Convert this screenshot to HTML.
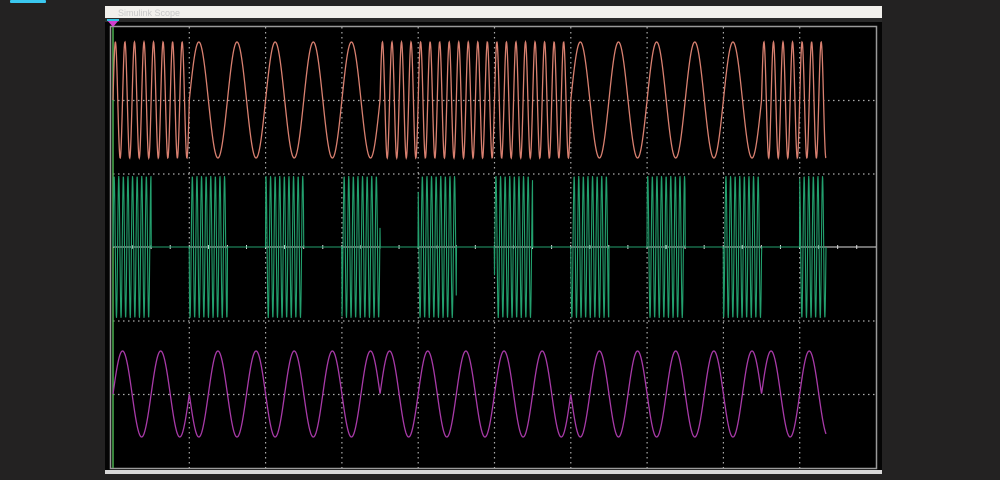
<!DOCTYPE html>
<html><head><meta charset="utf-8"><style>
html,body{margin:0;padding:0;background:#232222;width:1000px;height:480px;overflow:hidden}
svg{display:block}
</style></head><body>
<svg id="s" width="1000" height="480" xmlns="http://www.w3.org/2000/svg">
<rect x="0" y="0" width="1000" height="480" fill="#232222"/>
<rect x="10" y="0" width="36" height="3" rx="1" fill="#3ac8f0"/>
<rect x="105" y="6" width="777" height="468" fill="#050505"/>
<rect x="105" y="6" width="777" height="12" fill="#f2f0ec"/>
<text x="118" y="16" font-family="Liberation Sans, sans-serif" font-size="9" fill="#c8c8c8">Simulink Scope</text>
<rect x="105" y="18" width="777" height="4" fill="#2a2a2a"/>
<rect x="105" y="470" width="777" height="4" fill="#d8d8d8"/>
<rect x="110.5" y="26.5" width="766" height="442" fill="#000" stroke="#9a9a9a" stroke-width="1.5"/>
<g id="grid" stroke="#aaa" stroke-width="1.2" stroke-dasharray="1.5,3.5" fill="none"></g>
<line x1="113" y1="27" x2="113" y2="468" stroke="#4caf50" stroke-width="1.5"/>
<line x1="113" y1="247" x2="876" y2="247" stroke="#dddddd" stroke-width="1"/>
<g id="sig" fill="none"></g>
<polygon points="107,20 119,20 113,27" fill="#d040d0"/>
<rect x="107" y="19" width="12" height="2" fill="#30c0e0"/>
</svg>
<script>
const NS="http://www.w3.org/2000/svg";
const g=document.getElementById('grid');
function ln(p,x1,y1,x2,y2,c,w){const l=document.createElementNS(NS,'line');l.setAttribute('x1',x1);l.setAttribute('y1',y1);l.setAttribute('x2',x2);l.setAttribute('y2',y2);if(c)l.setAttribute('stroke',c);if(w)l.setAttribute('stroke-width',w);p.appendChild(l);}
for(let i=1;i<10;i++){const x=113+i*76.3;ln(g,x,27,x,468);}
for(let j=1;j<6;j++){const y=27+j*73.5;if(j!==3)ln(g,113,y,876,y);}
const s=document.getElementById('sig');
for(let k=1;k<40;k++){const x=113+k*19.07;ln(s,x,245,x,249,'#ddd',1);}
const X0=113,B=38.15,END=826;
function fast(b){return b<=1||(b>=7&&b<=11)||b>=17;}
let r='',p='',gr='';
for(let x=X0;x<=END;x+=0.25){
 const b=Math.floor((x-X0)/B);const t=(x-X0)/B;
 const f=fast(b);
 const yr=100-58*Math.sin(2*Math.PI*t*(f?4:1));
 r+=(r?'L':'M')+x.toFixed(2)+','+yr.toFixed(2);
 const yp=394-43*(f?1:-1)*Math.sin(2*Math.PI*t);
 p+=(p?'L':'M')+x.toFixed(2)+','+yp.toFixed(2);
 const on=(b%2===0);
 const yg=on?247-71*Math.sin(2*Math.PI*(x-X0)/4.6):247;
 gr+=(gr?'L':'M')+x.toFixed(2)+','+yg.toFixed(2);
}
function path(d,c,w){const e=document.createElementNS(NS,'path');e.setAttribute('d',d);e.setAttribute('stroke',c);e.setAttribute('stroke-width',w);s.appendChild(e);}
path(gr,'#23a06e',1.1);
path(r,'#d98070',1.3);
path(p,'#a83aa8',1.3);
</script>
</body></html>
